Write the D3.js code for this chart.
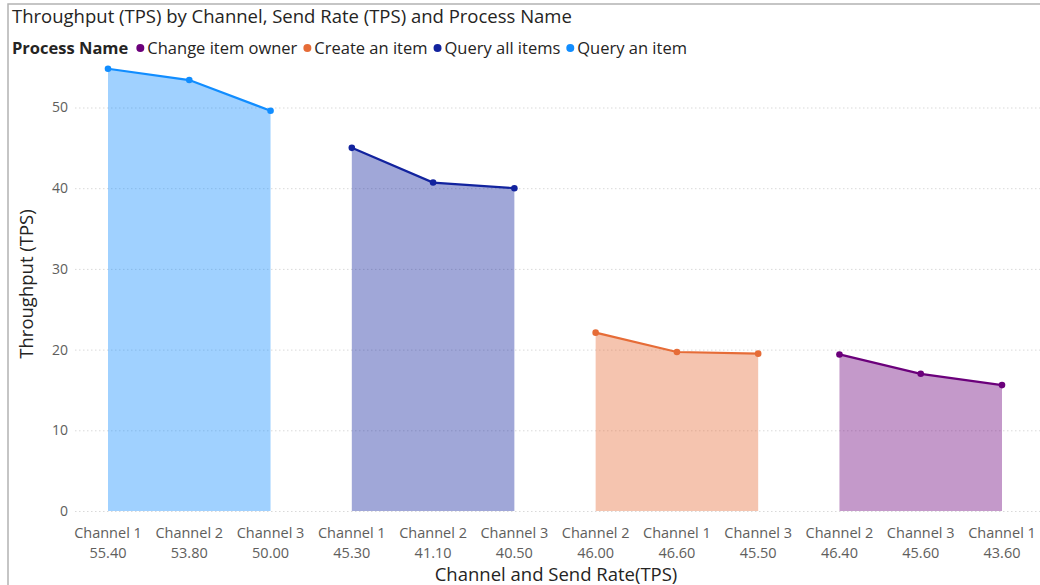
<!DOCTYPE html>
<html>
<head>
<meta charset="utf-8">
<script src="https://cdn.jsdelivr.net/npm/d3@7"></script>
<style>
  html, body { margin: 0; padding: 0; background: #fff; }
  svg { display: block; font-family: "Open Sans", "Noto Sans", sans-serif; }
</style>
</head>
<body>
<svg id="chart" width="1040" height="585"></svg>
<script>
// Process groups in plotting order, with their legend order and colours
const legendOrder = ["Change item owner", "Create an item", "Query all items", "Query an item"];
const processOrder = ["Query an item", "Query all items", "Create an item", "Change item owner"];
const processColors = {
  "Change item owner": "#6B007B",
  "Create an item": "#E66C37",
  "Query all items": "#12239E",
  "Query an item": "#118DFF"
};

// Channel and send rate for each point, per process
const channels = {
  "Query an item":     ["Channel 1", "Channel 2", "Channel 3"],
  "Query all items":   ["Channel 1", "Channel 2", "Channel 3"],
  "Create an item":    ["Channel 2", "Channel 1", "Channel 3"],
  "Change item owner": ["Channel 2", "Channel 3", "Channel 1"]
};
const sendRates = {
  "Query an item":     ["55.40", "53.80", "50.00"],
  "Query all items":   ["45.30", "41.10", "40.50"],
  "Create an item":    ["46.00", "46.60", "45.50"],
  "Change item owner": ["46.40", "45.60", "43.60"]
};
// Throughput (TPS)
const throughput = {
  "Query an item":     [54.8, 53.4, 49.6],
  "Query all items":   [45.0, 40.7, 40.0],
  "Create an item":    [22.1, 19.7, 19.5],
  "Change item owner": [19.4, 17.0, 15.6]
};
const yTicks = [0, 10, 20, 30, 40, 50];

const rows = [];
processOrder.forEach(p => {
  channels[p].forEach((c, i) => {
    rows.push({ process: p, channel: c, rate: sendRates[p][i], value: throughput[p][i], key: p + "|" + c });
  });
});

const svg = d3.select("#chart");

// Visual frame
svg.append("path")
  .attr("d", "M8,590 L8,4 L1045,4")
  .attr("fill", "none")
  .attr("stroke", "#b3b3b3")
  .attr("stroke-width", 1.5);

// Title
svg.append("text")
  .attr("x", 12).attr("y", 23)
  .attr("font-size", 18.5)
  .attr("fill", "#252423")
  .text("Throughput (TPS) by Channel, Send Rate (TPS) and Process Name");

// Legend
const legend = svg.append("g").attr("transform", "translate(12,54)");
const lgTitle = legend.append("text")
  .attr("font-size", 16.5).attr("font-weight", "bold").attr("fill", "#252423")
  .text("Process Name");
let lx = lgTitle.node().getComputedTextLength() + 8;
legendOrder.forEach(p => {
  legend.append("circle").attr("cx", lx + 4).attr("cy", -6).attr("r", 4).attr("fill", processColors[p]);
  const t = legend.append("text").attr("x", lx + 11).attr("font-size", 16.5).attr("fill", "#252423").text(p);
  lx += 11 + t.node().getComputedTextLength() + 6;
});

// Scales
const x = d3.scalePoint().domain(rows.map(d => d.key)).range([108, 1002]);
const y = d3.scaleLinear().domain([0, 50]).range([511, 107.5]);

// Gridlines and y tick labels
const yAxis = svg.append("g").attr("transform", "translate(75,0)")
  .call(d3.axisLeft(y).tickValues(yTicks).tickSize(-970).tickPadding(7));
yAxis.select(".domain").remove();
yAxis.selectAll(".tick line")
  .attr("stroke", "#d9d9d9").attr("stroke-dasharray", "1.5,2.5");
yAxis.selectAll(".tick text")
  .attr("font-size", 14).attr("fill", "#605E5C").attr("font-family", "Open Sans, sans-serif");

// Areas and lines per process
const area = d3.area().x(d => x(d.key)).y0(y(0)).y1(d => y(d.value));
const line = d3.line().x(d => x(d.key)).y(d => y(d.value));
processOrder.forEach(p => {
  const pts = rows.filter(r => r.process === p);
  const g = svg.append("g");
  g.append("path").datum(pts).attr("d", area)
    .attr("fill", processColors[p]).attr("fill-opacity", 0.4);
  g.append("path").datum(pts).attr("d", line)
    .attr("fill", "none").attr("stroke", processColors[p]).attr("stroke-width", 2.2);
  g.selectAll("circle").data(pts).join("circle")
    .attr("cx", d => x(d.key)).attr("cy", d => y(d.value)).attr("r", 3.3)
    .attr("fill", processColors[p]);
});

// X axis labels (channel + send rate)
const xl = svg.append("g");
rows.forEach(r => {
  const t = xl.append("text")
    .attr("x", x(r.key)).attr("text-anchor", "middle")
    .attr("font-size", 14.5).attr("fill", "#605E5C");
  t.append("tspan").attr("x", x(r.key)).attr("y", 538).text(r.channel);
  t.append("tspan").attr("x", x(r.key)).attr("y", 558).text(r.rate);
});

// Axis titles
svg.append("text")
  .attr("x", 556).attr("y", 581).attr("text-anchor", "middle")
  .attr("font-size", 18.5).attr("font-weight", 500).attr("fill", "#252423")
  .text("Channel and Send Rate(TPS)");
svg.append("text")
  .attr("transform", "translate(33,284) rotate(-90)").attr("text-anchor", "middle")
  .attr("font-size", 18.5).attr("font-weight", 500).attr("fill", "#252423")
  .text("Throughput (TPS)");
</script>
</body>
</html>
